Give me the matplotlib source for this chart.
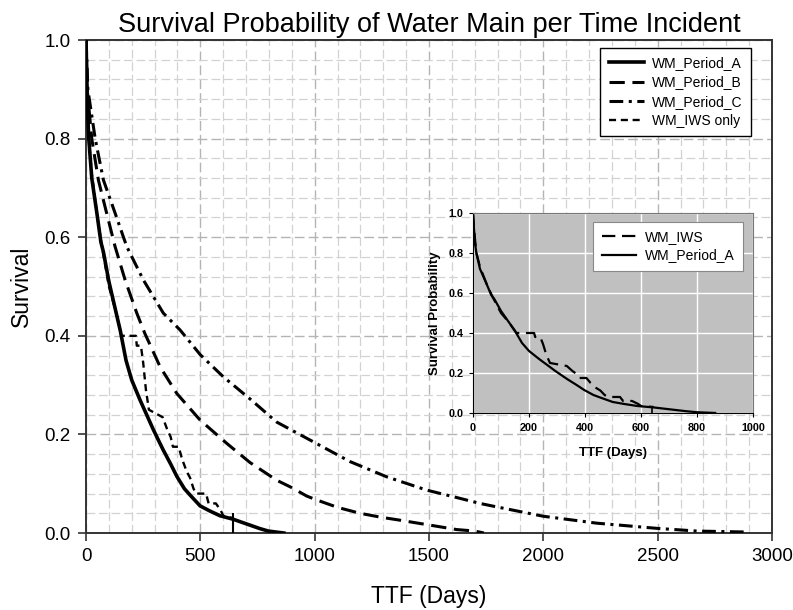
import numpy as np
import matplotlib
matplotlib.use('Agg')
import matplotlib.pyplot as plt
from matplotlib.ticker import MultipleLocator

plt.rcParams['font.family'] = ['Liberation Sans', 'DejaVu Sans']

# ── Data ─────────────────────────────────────────────────────────────────────
a_days = [0, 3, 7, 12, 25, 47, 65, 76, 100, 130, 150, 175, 200, 236, 265, 294,
          320, 338, 370, 397, 430, 455, 499, 540, 586, 643, 680, 717, 760, 797,
          830, 865]
a_surv = [1.0, 0.93, 0.85, 0.80, 0.72, 0.65, 0.59, 0.57, 0.51, 0.45, 0.41, 0.35,
          0.31, 0.27, 0.24, 0.21, 0.185, 0.168, 0.14, 0.115, 0.09, 0.077, 0.055,
          0.045, 0.035, 0.028, 0.022, 0.016, 0.009, 0.004, 0.002, 0.0]
a_censor = [641]

b_days = [0, 5, 25, 54, 90, 127, 171, 222, 257, 324, 397, 499, 615, 717, 834,
          900, 965, 1009, 1100, 1198, 1290, 1373, 1504, 1621, 1700, 1740]
b_surv = [1.0, 0.9, 0.80, 0.716, 0.649, 0.581, 0.513, 0.446, 0.405, 0.337, 0.283,
          0.229, 0.182, 0.143, 0.107, 0.092, 0.075, 0.067, 0.052, 0.040, 0.032,
          0.026, 0.016, 0.007, 0.004, 0.0]

c_days = [0, 8, 40, 76, 127, 178, 251, 338, 411, 499, 600, 717, 834, 994, 1154,
          1315, 1490, 1621, 1723, 1796, 2000, 2233, 2496, 2671, 2890]
c_surv = [1.0, 0.9, 0.80, 0.716, 0.649, 0.581, 0.513, 0.446, 0.412, 0.362, 0.317,
          0.272, 0.225, 0.185, 0.145, 0.114, 0.087, 0.072, 0.060, 0.053, 0.034,
          0.020, 0.0095, 0.004, 0.002]

iws_days = [0, 5, 12, 25, 50, 70, 100, 130, 155, 218, 222, 240, 250, 262, 275,
            335, 355, 370, 380, 405, 420, 440, 455, 470, 482, 525, 536, 568, 590,
            600, 645]
iws_surv = [1.0, 0.9, 0.80, 0.73, 0.64, 0.58, 0.50, 0.45, 0.40, 0.40, 0.38, 0.38,
            0.345, 0.29, 0.25, 0.235, 0.21, 0.195, 0.175, 0.175, 0.15, 0.125,
            0.112, 0.09, 0.08, 0.08, 0.06, 0.06, 0.045, 0.035, 0.03]

# ── Figure ────────────────────────────────────────────────────────────────────
fig = plt.figure(figsize=(7.93, 6.10), dpi=100, facecolor='white')
ax = fig.add_axes([0.1085, 0.1262, 0.865, 0.8082])

ax.plot(a_days, a_surv, color='black', lw=2.6, label='WM_Period_A', zorder=5)
ax.plot(b_days, b_surv, color='black', lw=2.2, ls=(0, (5, 2.5)), label='WM_Period_B', zorder=5)
ax.plot(c_days, c_surv, color='black', lw=2.2, ls=(0, (4.5, 1.8, 1, 1.8)), label='WM_Period_C', zorder=5)
ax.plot(iws_days, iws_surv, color='black', lw=1.7, ls=(0, (3, 2)), label='WM_IWS only', zorder=5)
ax.vlines(a_censor, 0, 0.04, color='black', lw=1.5, zorder=5)

ax.set_xlim(0, 3000)
ax.set_ylim(0, 1.0)
ax.xaxis.set_major_locator(MultipleLocator(500))
ax.xaxis.set_minor_locator(MultipleLocator(100))
ax.set_yticks(np.arange(0, 1.01, 0.2))
ax.set_yticklabels([f'{v:.1f}' for v in np.arange(0, 1.01, 0.2)])
ax.yaxis.set_minor_locator(MultipleLocator(0.04))
ax.grid(which='major', color='#b4b4b4', lw=1.0, ls=(0, (7, 3)))
ax.grid(which='minor', color='#d2d2d2', lw=0.9, ls=(0, (7, 3)))
ax.set_axisbelow(True)
ax.tick_params(which='major', direction='out', length=6, width=1.2, labelsize=13.5,
               color='#333333', pad=5)
ax.tick_params(which='minor', length=0)
for s in ax.spines.values():
    s.set_color('#333333')
    s.set_linewidth(1.4)

ax.set_title('Survival Probability of Water Main per Time Incident', fontsize=19.5, pad=6)
ax.set_xlabel('TTF (Days)', fontsize=16.5, labelpad=14)
ax.set_ylabel('Survival', fontsize=16.5, labelpad=8)

leg = ax.legend(loc='upper right', bbox_to_anchor=(0.969, 0.984), borderaxespad=0,
                fontsize=10, handlelength=2.5, fancybox=False, edgecolor='black',
                framealpha=1, borderpad=0.6, labelspacing=0.38, handletextpad=0.6)
leg.get_frame().set_linewidth(1.0)

# ── Inset ─────────────────────────────────────────────────────────────────────
ins = fig.add_axes([0.5965, 0.323, 0.353, 0.3278])
ins.set_facecolor('#c0c0c0')
ins.plot(iws_days, iws_surv, color='black', lw=1.6, ls=(0, (6, 3)), label='WM_IWS')
ins.plot(a_days, a_surv, color='black', lw=1.6, label='WM_Period_A')
ins.vlines(a_censor, 0, 0.03, color='black', lw=1.2)
ins.set_xlim(0, 1000)
ins.set_ylim(0, 1.0)
ins.set_xticks(np.arange(0, 1001, 200))
ins.set_yticks(np.arange(0, 1.01, 0.2))
ins.set_yticklabels([f'{v:.1f}' for v in np.arange(0, 1.01, 0.2)])
ins.grid(color='white', lw=1.0)
ins.set_axisbelow(True)
ins.tick_params(length=3, width=0.8, labelsize=7.8, pad=4)
for lab in ins.get_xticklabels() + ins.get_yticklabels():
    lab.set_fontweight('bold')
for s in ins.spines.values():
    s.set_color('#777777')
    s.set_linewidth(0.8)
ins.spines['left'].set_color('black')
ins.spines['bottom'].set_color('black')
ins.set_xlabel('TTF (Days)', fontsize=9.5, fontweight='bold', labelpad=10)
ins.set_ylabel('Survival Probability', fontsize=9.5, fontweight='bold', labelpad=5)
ileg = ins.legend(loc='upper right', bbox_to_anchor=(0.964, 0.955), borderaxespad=0,
                  fontsize=10, handlelength=2.5, fancybox=False, edgecolor='#888888',
                  framealpha=1, borderpad=0.6, labelspacing=0.3, handletextpad=0.6)
ileg.get_frame().set_linewidth(0.8)

fig.savefig('out.png', dpi=100, facecolor='white')
